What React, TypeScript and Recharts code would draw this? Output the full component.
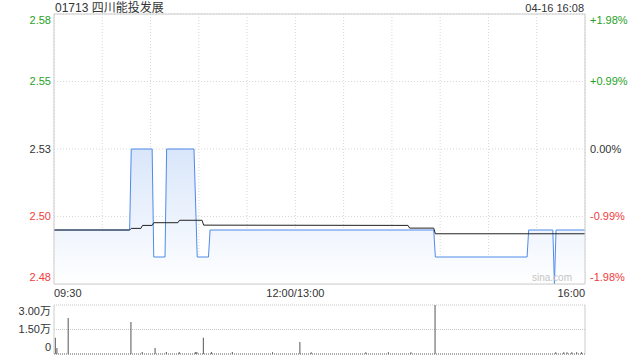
import React from 'react';
import { ComposedChart, Area, Line, XAxis, YAxis, CartesianGrid, ReferenceLine, BarChart, Bar } from 'recharts';

const title = '01713 四川能投发展';
const stamp = '04-16 16:08';

// minutes after 09:30 (lunch break removed), 0..330
const priceMinutes = [0, 47, 48, 61, 62, 69, 70, 87, 89, 96, 97, 236, 237, 294, 295, 310, 311, 312, 330];
const priceValues = [2.5, 2.5, 2.53, 2.53, 2.49, 2.49, 2.53, 2.53, 2.49, 2.49, 2.5, 2.5, 2.49, 2.49, 2.5, 2.5, 2.48, 2.5, 2.5];

const avgMinutes = [0, 47, 48, 54, 55, 61, 62, 77, 78, 92, 93, 220, 221, 236, 237, 330];
const avgValues = [2.5, 2.5, 2.5006, 2.5006, 2.5017, 2.5017, 2.5027, 2.5027, 2.5036, 2.5036, 2.5018, 2.5017, 2.5007, 2.5007, 2.4986, 2.4986];

const volMinutes = [1, 2, 9, 48, 55, 63, 70, 78, 88, 89, 93, 98, 111, 136, 153, 160, 194, 208, 222, 237, 312, 317, 319, 322, 325, 328];
const volValues = [10000, 3700, 22000, 19600, 1200, 3700, 1200, 1200, 1200, 1200, 10000, 1200, 1200, 1000, 7300, 1000, 1000, 1000, 1000, 30000, 1000, 1000, 1000, 1000, 1000, 1000];

const priceTicks = [2.48, 2.505, 2.53, 2.555, 2.58];
const priceTickLabels = ['2.48', '2.50', '2.53', '2.55', '2.58'];
const pctTickLabels = ['-1.98%', '-0.99%', '0.00%', '+0.99%', '+1.98%'];
const timeTicks = [0, 30, 60, 90, 120, 150, 180, 210, 240, 270, 300, 330];
const timeLabels: Record<number, string> = { 0: '09:30', 150: '12:00/13:00', 330: '16:00' };
const volTicks = [0, 15000, 30000];
const volTickLabels = ['0', '1.50万', '3.00万'];

const font = "'Liberation Sans', Arial, 'Noto Sans CJK SC', sans-serif";
const GREEN = '#1fa21f';
const RED = '#f23b3b';
const DARK = '#333';

const priceData = priceMinutes.map((m, i) => ({ m, price: priceValues[i] }));
const avgData = avgMinutes.map((m, i) => ({ m, avg: avgValues[i] }));
const volData = volMinutes.map((m, i) => ({ m, vol: volValues[i] }));

const tickColor = (i: number) => (i < 2 ? RED : i === 2 ? DARK : GREEN);
const edgeShift = (i: number, n: number) => (i === 0 ? -7 : i === n - 1 ? 6 : 0);

function PriceTick(props: any) {
  const { x, y, payload } = props;
  const i = priceTicks.indexOf(payload.value);
  return (
    <text x={x} y={y + edgeShift(i, priceTicks.length)} dy="0.35em" textAnchor="end" fill={tickColor(i)} fontSize={11} fontFamily={font}>
      {priceTickLabels[i]}
    </text>
  );
}

function PctTick(props: any) {
  const { x, y, payload } = props;
  const i = priceTicks.indexOf(payload.value);
  return (
    <text x={x} y={y + edgeShift(i, priceTicks.length)} dy="0.35em" textAnchor="start" fill={tickColor(i)} fontSize={11} fontFamily={font}>
      {pctTickLabels[i]}
    </text>
  );
}

function TimeTick(props: any) {
  const { x, y, payload } = props;
  const label = timeLabels[payload.value];
  if (!label) return <g />;
  const anchor = payload.value === 0 ? 'start' : payload.value === 330 ? 'end' : 'middle';
  return (
    <text x={x} y={y} dy="0.71em" textAnchor={anchor} fill={DARK} fontSize={11} fontFamily={font}>
      {label}
    </text>
  );
}

function VolTick(props: any) {
  const { x, y, payload } = props;
  const i = volTicks.indexOf(payload.value);
  return (
    <text x={x} y={y + edgeShift(i, volTicks.length)} dy="0.35em" textAnchor="end" fill={DARK} fontSize={11} fontFamily={font}>
      {volTickLabels[i]}
    </text>
  );
}

export default function App() {
  return (
    <div style={{ position: 'relative', width: 640, height: 360, background: '#fff', fontFamily: font }}>
      <style>{'body{margin:0}'}</style>
      <div style={{ position: 'absolute', left: 55, top: 1, fontSize: 12, lineHeight: '14px', color: DARK }}>{title}</div>
      <div style={{ position: 'absolute', right: 56, top: 1, fontSize: 11, lineHeight: '14px', color: DARK }}>{stamp}</div>

      <div style={{ position: 'absolute', left: 0, top: 0 }}>
        <ComposedChart width={640} height={300} margin={{ top: 14, right: 0, bottom: 0, left: 0 }}>
          <defs>
            <linearGradient id="priceFill" x1="0" y1="0" x2="0" y2="1">
              <stop offset="0%" stopColor="#d9e6fa" stopOpacity={1} />
              <stop offset="100%" stopColor="#ffffff" stopOpacity={1} />
            </linearGradient>
          </defs>
          <CartesianGrid stroke="#d8d8d8" strokeDasharray="1 2" />
          <XAxis dataKey="m" type="number" domain={[0, 330]} ticks={timeTicks} interval={0} allowDataOverflow
            height={16} tickLine={false} tickSize={2} tickMargin={3} axisLine={{ stroke: '#ccc' }} tick={<TimeTick />} />
          <YAxis type="number" domain={[2.48, 2.58]} ticks={priceTicks} interval={0} allowDataOverflow width={54}
            tickLine={false} tickSize={0} tickMargin={3} axisLine={{ stroke: '#ccc' }} tick={<PriceTick />} />
          <YAxis yAxisId="r" orientation="right" type="number" domain={[2.48, 2.58]} ticks={priceTicks} interval={0} allowDataOverflow width={55}
            tickLine={false} tickSize={0} tickMargin={5} axisLine={{ stroke: '#ccc' }} tick={<PctTick />} />
          <ReferenceLine y={2.58} stroke="#ccc" />
          <Line yAxisId="r" data={avgData} dataKey="avg" type="linear" stroke="#222" strokeWidth={1} dot={false} isAnimationActive={false} />
          <Area data={priceData} dataKey="price" type="linear" stroke="#4f8ae8" strokeWidth={1} fill="url(#priceFill)" fillOpacity={1} dot={false} isAnimationActive={false} />
        </ComposedChart>
      </div>

      <div style={{ position: 'absolute', left: 532, top: 272, fontSize: 10, lineHeight: '12px', color: '#c4c4c4' }}>sina.com</div>

      <div style={{ position: 'absolute', left: 0, top: 290 }}>
        <BarChart width={640} height={70} data={volData} margin={{ top: 15, right: 0, bottom: 6, left: 0 }}>
          <CartesianGrid vertical={false} stroke="#c8c8c8" strokeDasharray="1 1" />
          <XAxis dataKey="m" type="number" domain={[0, 330]} allowDataOverflow hide />
          <YAxis type="number" domain={[0, 30000]} ticks={volTicks} interval={0} allowDataOverflow width={54}
            tickLine={false} tickSize={0} tickMargin={3} axisLine={{ stroke: '#ccc' }} tick={<VolTick />} />
          <YAxis yAxisId="r" orientation="right" type="number" domain={[0, 30000]} width={55} tick={false} tickLine={false} axisLine={{ stroke: '#ccc' }} />
          <ReferenceLine y={0} stroke="#777" strokeDasharray="1 1" />
          <Bar dataKey="vol" fill="#555" barSize={1} isAnimationActive={false} />
        </BarChart>
      </div>
    </div>
  );
}
